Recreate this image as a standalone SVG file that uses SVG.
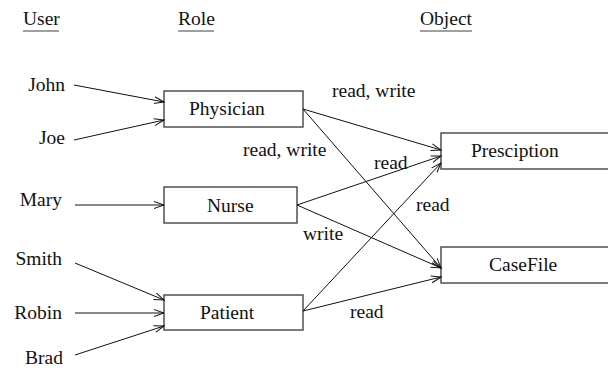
<svg xmlns="http://www.w3.org/2000/svg" width="608" height="368" viewBox="0 0 608 368" font-family="'Liberation Serif', 'Times New Roman', 'DejaVu Serif', serif" font-size="19.5">
<style>
text{fill:#111}
.box{fill:#fff;stroke:#505050;stroke-width:1.5}
.edge{fill:none;stroke:#111;stroke-width:1;marker-end:url(#arr)}
.ul{stroke:#808080;stroke-width:1.6}
</style>
<defs>
<marker id="arr" markerUnits="userSpaceOnUse" markerWidth="12" markerHeight="10" refX="10" refY="4" orient="auto">
<path d="M0,0.5 L10,4 L0,7.5" fill="none" stroke="#111" stroke-width="1"/>
</marker>
</defs>
<g id="headers">
<text x="23" y="25">User</text>
<line class="ul" x1="23" y1="31" x2="59" y2="31"/>
<text x="178" y="25">Role</text>
<line class="ul" x1="178" y1="31" x2="214" y2="31"/>
<text x="420" y="25">Object</text>
<line class="ul" x1="420" y1="31" x2="472" y2="31"/>
</g>
<g id="users" text-anchor="end">
<g id="john"><text x="65" y="91">John</text></g>
<g id="joe"><text x="65" y="144">Joe</text></g>
<g id="mary"><text x="62" y="206">Mary</text></g>
<g id="smith"><text x="62" y="265">Smith</text></g>
<g id="robin"><text x="62" y="319">Robin</text></g>
<g id="brad"><text x="63" y="364">Brad</text></g>
</g>
<g id="physician"><rect class="box" x="164" y="91" width="139" height="36"/><text x="189" y="115">Physician</text></g>
<g id="nurse"><rect class="box" x="164" y="187" width="133" height="36"/><text x="207" y="212">Nurse</text></g>
<g id="patient"><rect class="box" x="164" y="295" width="139" height="35"/><text x="200" y="319">Patient</text></g>
<g id="presciption"><rect class="box" x="441" y="133" width="170" height="36"/><text x="471" y="157">Presciption</text></g>
<g id="casefile"><rect class="box" x="441" y="247" width="170" height="36"/><text x="489" y="271">CaseFile</text></g>
<g id="connectors">
<line class="edge" x1="74" y1="85" x2="164" y2="102"/>
<line class="edge" x1="74" y1="140" x2="164" y2="120"/>
<line class="edge" x1="75" y1="205" x2="164" y2="205"/>
<line class="edge" x1="75" y1="263" x2="164" y2="300"/>
<line class="edge" x1="75" y1="313" x2="164" y2="313"/>
<line class="edge" x1="75" y1="355" x2="164" y2="326"/>
<line class="edge" x1="303" y1="109" x2="441" y2="150"/>
<line class="edge" x1="303" y1="109" x2="441" y2="268"/>
<line class="edge" x1="297" y1="205" x2="441" y2="156"/>
<line class="edge" x1="297" y1="205" x2="441" y2="268"/>
<line class="edge" x1="303" y1="311" x2="441" y2="163"/>
<line class="edge" x1="303" y1="311" x2="441" y2="277"/>
<text x="332" y="97">read, write</text>
<text x="243" y="156">read, write</text>
<text x="374" y="169">read</text>
<text x="416" y="211">read</text>
<text x="303" y="240">write</text>
<text x="350" y="318">read</text>
</g>
</svg>
